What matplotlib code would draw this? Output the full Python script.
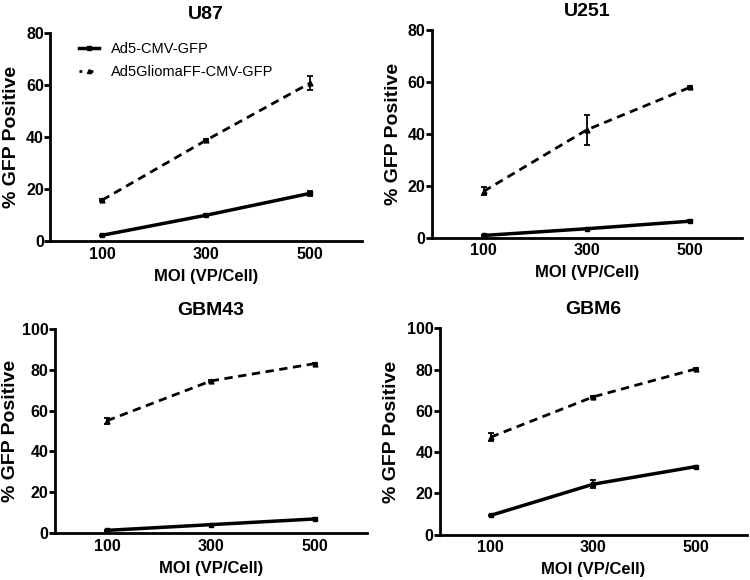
import matplotlib
matplotlib.use("Agg")
import matplotlib.pyplot as plt

plt.rcParams['font.family'] = ['Liberation Sans', 'DejaVu Sans']

moi = [100, 300, 500]
titles = ["U87", "U251", "GBM43", "GBM6"]
ad5_vals = [[2.3, 10.0, 18.4], [0.9, 3.5, 6.4], [1.3, 4.1, 6.9], [9.4, 24.5, 33.0]]
ad5_err = [[0.3, 0.4, 1.0], [0.3, 0.3, 0.4], [0.3, 0.3, 0.4], [0.4, 2.0, 0.5]]
gli_vals = [[15.8, 38.8, 60.8], [17.9, 41.6, 58.0], [55.0, 74.5, 83.0], [47.3, 66.8, 80.3]]
gli_err = [[0.4, 0.4, 2.8], [1.5, 5.8, 0.4], [1.5, 0.5, 0.4], [2.0, 0.5, 0.5]]
ymax = [80, 80, 100, 100]
yticks = [[0, 20, 40, 60, 80], [0, 20, 40, 60, 80], [0, 20, 40, 60, 80, 100], [0, 20, 40, 60, 80, 100]]
labels = ["Ad5-CMV-GFP", "Ad5GliomaFF-CMV-GFP"]

positions = [
    [0.0667, 0.584, 0.416, 0.359],
    [0.576, 0.590, 0.413, 0.358],
    [0.0733, 0.081, 0.416, 0.352],
    [0.586, 0.078, 0.410, 0.356],
]
ylabel_right_px = [20, 402, 19, 400]

W = 750
fig = plt.figure(figsize=(7.5, 5.8), dpi=100)
for i in range(4):
    ax = fig.add_axes(positions[i])
    ax.errorbar(moi, ad5_vals[i], yerr=ad5_err[i], color='black', lw=2.5, ls='-',
                marker='s', ms=3.5, capsize=2.5, elinewidth=1.3, capthick=1.3)
    ax.errorbar(moi, gli_vals[i], yerr=gli_err[i], color='black', lw=2.0, ls=(0, (3, 2)),
                marker='^', ms=3.5, capsize=2.5, elinewidth=1.3, capthick=1.3)
    ax.set_xlim(0, 600)
    ax.set_ylim(0, ymax[i])
    ax.set_xticks(moi)
    ax.set_yticks(yticks[i])
    for s in ['top', 'right']:
        ax.spines[s].set_visible(False)
    for s in ['left', 'bottom']:
        ax.spines[s].set_linewidth(2.0)
    ax.tick_params(axis='y', length=4, width=2.0, labelsize=11.5, pad=0.5)
    ax.tick_params(axis='x', length=0, labelsize=11.5, pad=4)
    for t in ax.get_xticklabels() + ax.get_yticklabels():
        t.set_fontweight('bold')
    ax.set_title(titles[i], fontsize=14, fontweight='bold', pad=10)
    ax.set_xlabel("MOI (VP/Cell)", fontsize=12, fontweight='bold', labelpad=5)
    ax.set_ylabel("% GFP Positive", fontsize=14, fontweight='bold')
    left_px = positions[i][0] * W
    width_px = positions[i][2] * W
    ax.yaxis.set_label_coords((ylabel_right_px[i] - left_px) / width_px, 0.5)
    ax.spines['left'].set_bounds(0, ymax[i])
    if i == 0:
        h1, = ax.plot([], [], color='black', lw=2.5, ls='-', marker='s', ms=3.5)
        h2, = ax.plot([], [], color='black', lw=2.0, ls=(0, (1, 3)), marker='^', ms=3)
        ax.legend([h1, h2], labels, loc='upper left', bbox_to_anchor=(0.05, 1.02),
                  frameon=False, fontsize=10.5, handlelength=1.4, handletextpad=0.8,
                  labelspacing=0.6)

fig.savefig("out.png", dpi=100)
